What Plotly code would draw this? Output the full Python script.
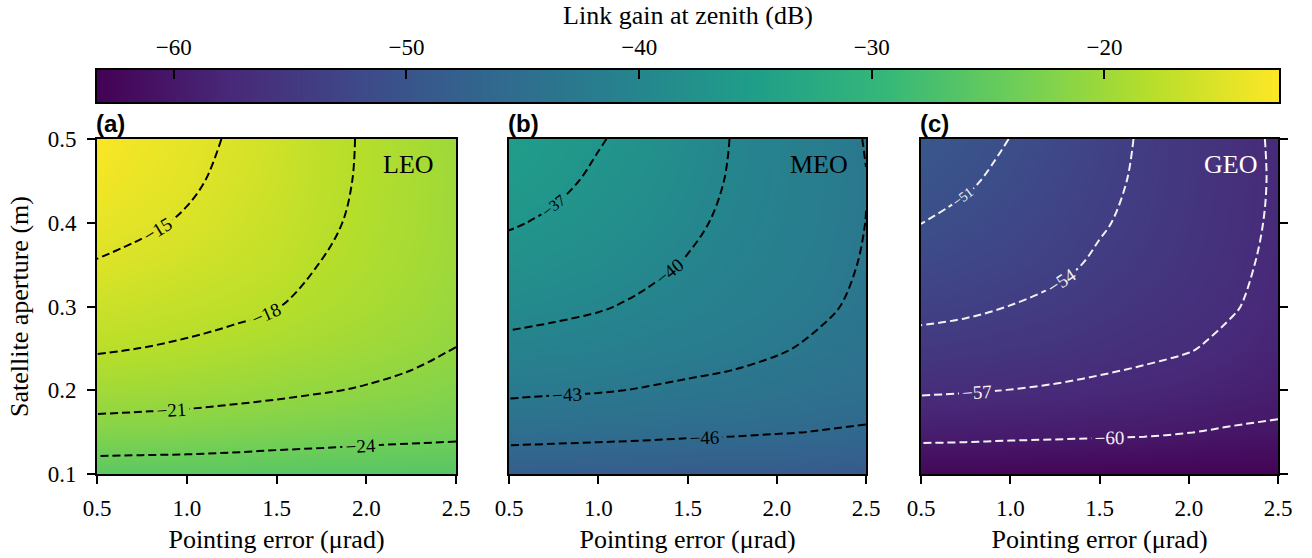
import numpy as np
import plotly.graph_objects as go

# ---------------- data ----------------
pointing_error = [0.5, 0.75, 1.0, 1.25, 1.5, 1.75, 2.0, 2.25, 2.5]          # µrad
aperture = [0.1, 0.15, 0.2, 0.25, 0.3, 0.35, 0.4, 0.45, 0.5]                # m

# Link gain (dB): one list per pointing-error value, running over aperture
leo_gain = [
    [-25.46, -22.05, -19.62, -17.75, -16.33, -15.13, -14.18, -13.41, -12.78],
    [-25.52, -22.14, -19.79, -18.02, -16.68, -15.56, -14.66, -14.07, -13.65],
    [-25.55, -22.25, -19.99, -18.30, -17.08, -16.09, -15.23, -14.64, -14.32],
    [-25.63, -22.44, -20.25, -18.67, -17.45, -16.60, -15.98, -15.52, -15.20],
    [-25.78, -22.66, -20.53, -19.09, -17.93, -17.20, -16.70, -16.35, -16.10],
    [-25.85, -22.86, -20.85, -19.50, -18.60, -18.05, -17.65, -17.45, -17.40],
    [-25.90, -23.09, -21.17, -19.90, -19.10, -18.65, -18.40, -18.25, -18.20],
    [-26.00, -23.25, -21.55, -20.40, -19.70, -19.30, -19.10, -19.05, -19.10],
    [-26.05, -23.40, -22.02, -21.02, -20.40, -20.05, -19.90, -19.90, -20.02],
]
meo_gain = [
    [-48.32, -44.93, -42.52, -40.65, -39.14, -37.89, -36.80, -35.94, -35.23],
    [-48.41, -45.07, -42.71, -40.89, -39.46, -38.31, -37.31, -36.54, -36.01],
    [-48.52, -45.20, -42.85, -41.15, -39.82, -38.80, -38.02, -37.35, -36.85],
    [-48.60, -45.35, -43.11, -41.58, -40.33, -39.45, -38.70, -38.10, -37.67],
    [-48.68, -45.54, -43.40, -41.95, -40.95, -40.15, -39.55, -39.15, -38.87],
    [-48.75, -45.67, -43.65, -42.30, -41.50, -40.95, -40.49, -40.19, -40.07],
    [-48.80, -45.87, -44.02, -42.78, -42.02, -41.50, -41.20, -41.05, -41.02],
    [-48.85, -46.08, -44.45, -43.40, -42.65, -42.20, -41.95, -41.85, -41.90],
    [-48.90, -46.25, -44.90, -44.05, -43.49, -43.20, -43.02, -42.95, -43.10],
]
geo_gain = [
    [-62.52, -59.11, -56.70, -54.83, -53.33, -52.08, -50.97, -50.12, -49.38],
    [-62.55, -59.20, -56.84, -55.03, -53.60, -52.49, -51.52, -50.73, -50.20],
    [-62.64, -59.33, -57.03, -55.35, -54.03, -53.00, -52.20, -51.55, -51.03],
    [-62.70, -59.43, -57.25, -55.65, -54.45, -53.55, -53.02, -52.50, -52.09],
    [-62.75, -59.55, -57.50, -56.10, -55.10, -54.30, -53.80, -53.45, -53.17],
    [-62.80, -59.66, -57.75, -56.50, -55.70, -55.02, -54.55, -54.35, -54.26],
    [-62.90, -59.95, -58.10, -56.87, -56.20, -55.75, -55.50, -55.35, -55.27],
    [-62.95, -60.25, -58.60, -57.55, -56.85, -56.50, -56.30, -56.22, -56.28],
    [-63.00, -60.40, -59.10, -58.30, -57.79, -57.55, -57.35, -57.27, -57.30],
]

orbit_names = ["LEO", "MEO", "GEO"]
panel_letters = ["(a)", "(b)", "(c)"]
contour_start = [-24, -46, -60]
contour_end = [-15, -37, -51]
contour_step = 3
x_ticks = [0.5, 1.0, 1.5, 2.0, 2.5]
y_ticks = [0.1, 0.2, 0.3, 0.4, 0.5]
cbar_ticks = [-60, -50, -40, -30, -20]
cbar_range = [-63.3, -12.5]

# ---------------- styling ----------------
W, H = 1312, 558
SERIF = "Liberation Serif"
SANS = "Liberation Sans"
panel_px = [(97, 456), (509, 866), (921, 1278)]
top_px, bottom_px = 139, 474
line_colors = ["black", "black", "#f2f2f2"]
top_label_size = [19, 16, 14]   # short corner lines need a smaller label to get one
DASH = "8px,4px"

def fx(px):
    return px / W

def fy(px):
    return 1 - px / H

fig = go.Figure()
gains = [leo_gain, meo_gain, geo_gain]

for i, g in enumerate(gains):
    z = np.array(g).T  # rows: aperture, cols: pointing error
    xa = "x" if i == 0 else f"x{i+1}"
    ya = "y" if i == 0 else f"y{i+1}"
    fig.add_trace(go.Heatmap(
        x=pointing_error, y=aperture, z=z, coloraxis="coloraxis",
        zsmooth="best", xaxis=xa, yaxis=ya, hoverinfo="skip"))
    # lower levels
    fig.add_trace(go.Contour(
        x=pointing_error, y=aperture, z=z, xaxis=xa, yaxis=ya,
        showscale=False, hoverinfo="skip",
        contours=dict(start=contour_start[i], end=contour_end[i] - contour_step,
                      size=contour_step, coloring="none", showlabels=True,
                      labelfont=dict(family=SERIF, size=19, color=line_colors[i])),
        line=dict(color=line_colors[i], width=2, dash=DASH)))
    # highest level
    fig.add_trace(go.Contour(
        x=pointing_error, y=aperture, z=z, xaxis=xa, yaxis=ya,
        showscale=False, hoverinfo="skip",
        contours=dict(start=contour_end[i], end=contour_end[i], size=contour_step,
                      coloring="none", showlabels=True,
                      labelfont=dict(family=SERIF, size=top_label_size[i],
                                     color=line_colors[i])),
        line=dict(color=line_colors[i], width=2, dash=DASH)))

# colour-bar strip drawn on its own axes (tick labels on top)
strip = np.linspace(cbar_range[0], cbar_range[1], 400)
fig.add_trace(go.Heatmap(x=strip, y=[0, 1], z=[strip, strip], coloraxis="coloraxis",
                         xaxis="x4", yaxis="y4", hoverinfo="skip"))

axis_common = dict(showline=True, linecolor="black", linewidth=1.8, mirror=True,
                   showgrid=False, zeroline=False, automargin=False,
                   tickfont=dict(family=SERIF, size=23, color="black"))

layout = dict(
    width=W, height=H, margin=dict(l=0, r=0, t=0, b=0, autoexpand=False),
    paper_bgcolor="white", plot_bgcolor="white", showlegend=False,
    coloraxis=dict(colorscale="Viridis", cmin=cbar_range[0], cmax=cbar_range[1],
                   showscale=False),
)

for i in range(3):
    xk = "xaxis" if i == 0 else f"xaxis{i+1}"
    yk = "yaxis" if i == 0 else f"yaxis{i+1}"
    ya = "y" if i == 0 else f"y{i+1}"
    xa = "x" if i == 0 else f"x{i+1}"
    layout[xk] = dict(axis_common, domain=[fx(panel_px[i][0]), fx(panel_px[i][1])],
                      anchor=ya, range=[0.5, 2.5], tickvals=x_ticks, tickformat=".1f",
                      ticks="outside", ticklen=8, tickwidth=1.8, tickcolor="black",
                      ticklabelstandoff=4,
                      title=dict(text="Pointing error (\u03bcrad)", standoff=10,
                                 font=dict(family=SERIF, size=26, color="black")))
    ydict = dict(axis_common, domain=[fy(bottom_px), fy(top_px)], anchor=xa,
                 range=[0.1, 0.5], tickvals=y_ticks, tickformat=".1f")
    if i == 0:
        ydict.update(ticks="outside", ticklen=8, tickwidth=1.8, tickcolor="black",
                     ticklabelstandoff=6,
                     title=dict(text="Satellite aperture (m)", standoff=12,
                                font=dict(family=SERIF, size=26, color="black")))
    elif i == 1:
        ydict.update(ticks="", showticklabels=False)
    else:
        ydict.update(side="right", ticks="outside", ticklen=8, tickwidth=1.8,
                     tickcolor="black", showticklabels=False)
    layout[yk] = ydict

layout["xaxis4"] = dict(axis_common, domain=[fx(97), fx(1279)], anchor="y4", side="top",
                        range=cbar_range, tickvals=cbar_ticks, ticks="inside",
                        ticklen=9, tickwidth=2, tickcolor="black", ticklabelstandoff=4,
                        tickfont=dict(family=SERIF, size=23, color="black"),
                        title=dict(text="Link gain at zenith (dB)", standoff=3,
                                   font=dict(family=SERIF, size=26, color="black")))
layout["yaxis4"] = dict(axis_common, domain=[fy(102), fy(70)], anchor="x4",
                        range=[0, 1], showticklabels=False, ticks="")

annotations = []
for i in range(3):
    xa = "x" if i == 0 else f"x{i+1}"
    ya = "y" if i == 0 else f"y{i+1}"
    annotations.append(dict(text=orbit_names[i], xref=f"{xa} domain", yref=f"{ya} domain",
                            x=0.868, y=1, xanchor="center", yanchor="top", yshift=-9,
                            showarrow=False,
                            font=dict(family=SERIF, size=26,
                                      color="white" if i == 2 else "black")))
    annotations.append(dict(text=f"<b>{panel_letters[i]}</b>", xref=f"{xa} domain",
                            yref=f"{ya} domain", x=0, y=1, xanchor="left", yanchor="bottom",
                            xshift=-3, yshift=0, showarrow=False,
                            font=dict(family=SANS, size=24, color="black")))
layout["annotations"] = annotations

fig.update_layout(**layout)
fig.write_html("out.html")
